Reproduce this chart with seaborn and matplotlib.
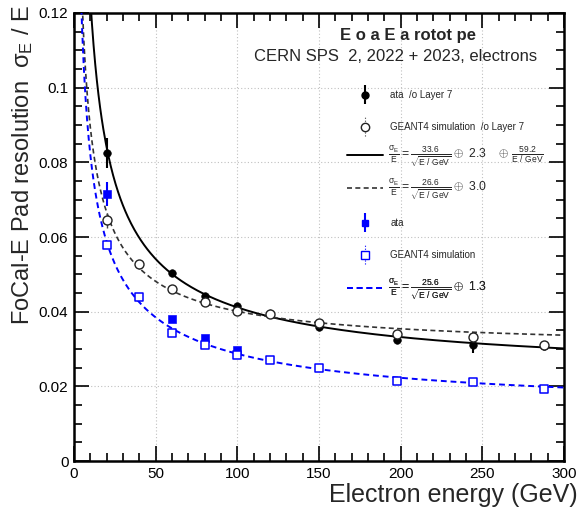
import numpy as np
import pandas as pd
import matplotlib
matplotlib.use("Agg")
import matplotlib.pyplot as plt
import seaborn as sns
from matplotlib.ticker import MultipleLocator, FuncFormatter
from matplotlib.lines import Line2D
from matplotlib.container import ErrorbarContainer
from matplotlib.legend_handler import HandlerErrorbar

sns.set_theme(style="ticks")
plt.rcParams['font.family'] = ['Liberation Sans', 'DejaVu Sans']
plt.rcParams['mathtext.fontset'] = 'custom'
plt.rcParams['mathtext.rm'] = 'Liberation Sans'
plt.rcParams['mathtext.it'] = 'Liberation Sans'

# ---- data ----
e_data_nol7 = [20, 60, 80, 100, 150, 198, 244, 288]
r_data_nol7 = [0.0825, 0.0503, 0.0443, 0.0416, 0.0359, 0.0324, 0.0310, 0.0307]
err_data_nol7 = [0.0040, 0.0006, 0.0006, 0.0006, 0.0006, 0.0006, 0.0020, 0.0008]

e_sim_nol7 = [20, 40, 60, 80, 100, 120, 150, 198, 244, 288]
r_sim_nol7 = [0.0645, 0.0527, 0.0462, 0.0425, 0.0403, 0.0394, 0.0370, 0.0339, 0.0331, 0.0311]
err_sim_nol7 = [0.0020, 0.0012, 0.0010, 0.0010, 0.0008, 0.0012, 0.0010, 0.0010, 0.0012, 0.0010]

e_data = [20, 60, 80, 100]
r_data = [0.0715, 0.0380, 0.0329, 0.0297]
err_data = [0.0033, 0.0003, 0.0003, 0.0003]

e_sim = [20, 40, 60, 80, 100, 120, 150, 198, 244, 288]
r_sim = [0.0578, 0.0438, 0.0342, 0.0311, 0.0284, 0.0270, 0.0250, 0.0213, 0.0212, 0.0194]
err_sim = [0.0005, 0.0005, 0.0004, 0.0004, 0.0004, 0.0004, 0.0004, 0.0004, 0.0004, 0.0004]

# fit parameters (percent): stochastic, constant, noise
fit_data_nol7 = (33.6, 2.3, 59.2)
fit_sim_nol7 = (26.6, 3.0, 0.0)
fit_sim = (25.6, 1.3, 0.0)

title_line1 = "E o a E a rotot pe"
title_line2 = "CERN SPS  2, 2022 + 2023, electrons"
x_label = "Electron energy (GeV)"
y_label = r"FoCal-E Pad resolution  $\sigma_{E}$ / E"
legend_labels = ["ata  /o Layer 7", "GEANT4 simulation  /o Layer 7", "ata", "GEANT4 simulation"]

def fit_curve(pars, e):
    a, b, c = pars
    return np.sqrt((a / np.sqrt(e)) ** 2 + b ** 2 + (c / e) ** 2) / 100.0

e_grid = np.linspace(1, 300, 600)

fig = plt.figure(figsize=(5.8, 5.11), dpi=100)
ax = fig.add_axes([0.1276, 0.0978, 0.9724 - 0.1276, 0.9746 - 0.0978])

blue = "#0000ff"

# curves
df_c1 = pd.DataFrame({"E": e_grid, "R": fit_curve(fit_data_nol7, e_grid)})
df_c2 = pd.DataFrame({"E": e_grid, "R": fit_curve(fit_sim_nol7, e_grid)})
df_c3 = pd.DataFrame({"E": e_grid, "R": fit_curve(fit_sim, e_grid)})
sns.lineplot(data=df_c1, x="E", y="R", ax=ax, color="black", lw=1.4, zorder=3)
sns.lineplot(data=df_c2, x="E", y="R", ax=ax, color="#333333", lw=1.2, zorder=3)
ax.lines[-1].set_dashes([3, 2])
sns.lineplot(data=df_c3, x="E", y="R", ax=ax, color=blue, lw=1.4, zorder=3)
ax.lines[-1].set_dashes([3, 2])

# error bars
ax.errorbar(e_data_nol7, r_data_nol7, yerr=err_data_nol7, fmt="none", ecolor="black", elinewidth=1.5, zorder=4)
ax.errorbar(e_sim_nol7, r_sim_nol7, yerr=err_sim_nol7, fmt="none", ecolor="#444444", elinewidth=1.0, zorder=4)
ax.errorbar(e_data, r_data, yerr=err_data, fmt="none", ecolor=blue, elinewidth=1.5, zorder=4)
ax.errorbar(e_sim, r_sim, yerr=err_sim, fmt="none", ecolor=blue, elinewidth=1.0, zorder=4)

# markers
sns.scatterplot(x=e_data_nol7, y=r_data_nol7, ax=ax, marker="o", s=30, color="black", edgecolor="black", zorder=5)
sns.scatterplot(x=e_sim_nol7, y=r_sim_nol7, ax=ax, marker="o", s=42, facecolor="white", edgecolor="#222222", linewidth=1.0, zorder=5)
sns.scatterplot(x=e_data, y=r_data, ax=ax, marker="s", s=30, color=blue, edgecolor=blue, zorder=5)
sns.scatterplot(x=e_sim, y=r_sim, ax=ax, marker="s", s=40, facecolor="white", edgecolor=blue, linewidth=1.1, zorder=5)

ax.set_xlim(0, 300)
ax.set_ylim(0, 0.12)

ax.xaxis.set_major_locator(MultipleLocator(50))
ax.xaxis.set_minor_locator(MultipleLocator(10))
ax.yaxis.set_major_locator(MultipleLocator(0.02))
ax.yaxis.set_minor_locator(MultipleLocator(0.005))
ax.yaxis.set_major_formatter(FuncFormatter(lambda v, p: f"{v:g}"))
ax.xaxis.set_major_formatter(FuncFormatter(lambda v, p: f"{v:g}"))
ax.tick_params(which="both", direction="in", top=True, right=True, labelsize=11, colors="black", width=1.2)
ax.tick_params(which="major", length=11, pad=4)
ax.tick_params(which="minor", length=6)
for s in ax.spines.values():
    s.set_linewidth(1.8)
    s.set_color("black")
ax.grid(True, which="major", linestyle=(0, (1, 2)), color="#c0c0c0", lw=0.8)

ax.set_xlabel(x_label, fontsize=18, loc="right")
ax.xaxis.set_label_coords(1.0286, -0.050)
ax.set_ylabel(y_label, fontsize=17, loc="top")
ax.yaxis.set_label_coords(-0.080, 1.018)

ax.text(0.681, 0.950, title_line1, transform=ax.transAxes, ha="center", va="center", fontsize=12, fontweight="bold")
ax.text(0.657, 0.902, title_line2, transform=ax.transAxes, ha="center", va="center", fontsize=12)

# legend handles
h1 = ax.errorbar([np.nan], [np.nan], yerr=[1], fmt="o", color="black", ms=5, elinewidth=1.5)
h2 = ax.errorbar([np.nan], [np.nan], yerr=[1], fmt="o", mfc="white", mec="#222222", ecolor="#444444", ms=6, elinewidth=0.8)
h2[2][0].set_linestyle(":")
h3 = Line2D([], [], color="black", lw=1.4)
h4 = Line2D([], [], color="#333333", lw=1.2, dashes=[3, 2])
h5 = ax.errorbar([np.nan], [np.nan], yerr=[1], fmt="s", color=blue, ms=5, elinewidth=1.5)
h6 = ax.errorbar([np.nan], [np.nan], yerr=[1], fmt="s", mfc="white", mec=blue, ecolor=blue, ms=6, elinewidth=0.8)
h6[2][0].set_linestyle(":")
h7 = Line2D([], [], color=blue, lw=1.4, dashes=[3, 2])

def fmt_fit(p):
    a, b, c = p
    s = r"$\frac{\sigma_{E}}{E} = \frac{%.1f}{\sqrt{E\ /\ GeV}} \oplus\ %.1f$" % (a, b)
    if c:
        s += r"    $\oplus\ \frac{%.1f}{E\ /\ GeV}$" % c
    return s

handles = [h1, h2, h3, h4, h5, h6, h7]
labels = [legend_labels[0], legend_labels[1],
          fmt_fit(fit_data_nol7), fmt_fit(fit_sim_nol7),
          legend_labels[2], legend_labels[3], fmt_fit(fit_sim)]
row_px = [95, 127, 157, 190, 223, 255, 290]
for i, (h, lab) in enumerate(zip(handles, labels)):
    yy = (461 - row_px[i]) / 448.0
    is_formula = i in (2, 3, 6)
    lg = ax.legend([h], [lab], loc="center left", bbox_to_anchor=(0.557, yy),
                   frameon=False, fontsize=8.8 if is_formula else 7,
                   handlelength=3.7 * (7 / 8.8) if is_formula else 3.7,
                   handletextpad=0.5 * (7 / 8.8) if is_formula else 0.75,
                   borderpad=0, borderaxespad=0,
                   handler_map={ErrorbarContainer: HandlerErrorbar(yerr_size=0.95)})
    ax.add_artist(lg)

fig.savefig("out.png", dpi=100)
